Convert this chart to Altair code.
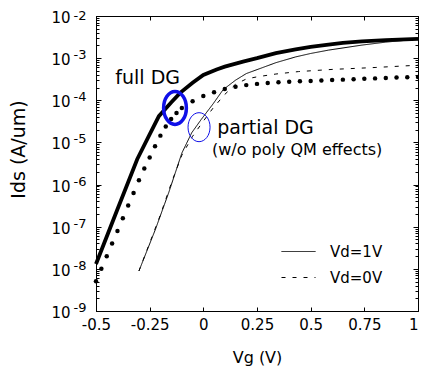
import altair as alt
import pandas as pd

# ---------------- data ----------------
# full DG, Vd = 1V (thick solid)
vg_full_vd1 = [-0.5, -0.4, -0.308, -0.25, -0.207, -0.15, -0.108, -0.05, 0.0, 0.062, 0.1,
               0.185, 0.25, 0.338, 0.43, 0.5, 0.583, 0.65, 0.739, 0.85, 1.0]
ids_full_vd1 = [1.3e-8, 2.6e-7, 4.0e-6, 1.55e-5, 4.2e-5, 8.9e-5, 1.5e-4, 2.6e-4, 4.0e-4, 5.4e-4, 6.3e-4,
                8.3e-4, 1.0e-3, 1.32e-3, 1.62e-3, 1.86e-3, 2.09e-3, 2.29e-3, 2.51e-3, 2.69e-3, 2.88e-3]

# full DG, Vd = 0V (big dots)
vg_full_vd0 = [-0.5, -0.475, -0.45, -0.425, -0.4, -0.375, -0.35, -0.325, -0.3, -0.275, -0.25,
               -0.225, -0.2, -0.175, -0.15, -0.125, -0.1, -0.05, 0.0, 0.05, 0.1, 0.15, 0.2,
               0.25, 0.3, 0.35, 0.4, 0.45, 0.5, 0.55, 0.6, 0.65, 0.7, 0.75, 0.8, 0.85, 0.9, 0.95, 1.0]
ids_full_vd0 = [5.1e-9, 1.0e-8, 2.0e-8, 4.0e-8, 7.9e-8, 1.58e-7, 3.2e-7, 6.3e-7, 1.26e-6, 2.4e-6, 4.4e-6,
                8.1e-6, 1.45e-5, 2.4e-5, 3.6e-5, 5.0e-5, 6.6e-5, 9.5e-5, 1.26e-4, 1.55e-4, 1.86e-4, 2.09e-4, 2.29e-4,
                2.45e-4, 2.57e-4, 2.69e-4, 2.75e-4, 2.82e-4, 2.88e-4, 2.95e-4, 3.02e-4, 3.09e-4, 3.16e-4, 3.24e-4,
                3.31e-4, 3.39e-4, 3.47e-4, 3.51e-4, 3.55e-4]

# partial DG, Vd = 1V (thin solid)
vg_part_vd1 = [-0.3, -0.223, -0.161, -0.1, -0.054, -0.01, 0.046, 0.092, 0.15, 0.2, 0.338,
               0.43, 0.5, 0.583, 0.739, 0.85, 1.0]
ids_part_vd1 = [8.9e-9, 8.7e-8, 6.5e-7, 5.6e-6, 1.7e-5, 3.5e-5, 8.3e-5, 1.78e-4, 3.0e-4, 4.3e-4, 7.8e-4,
                1.07e-3, 1.29e-3, 1.55e-3, 2.04e-3, 2.4e-3, 2.82e-3]

# partial DG, Vd = 0V (thin dashed)
vg_part_vd0 = [-0.3, -0.2, -0.146, -0.1, -0.05, 0.0, 0.046, 0.1, 0.15, 0.2, 0.25, 0.338, 0.444, 0.6, 0.8, 1.0]
ids_part_vd0 = [8.9e-9, 1.9e-7, 1.2e-6, 5.0e-6, 1.4e-5, 3.2e-5, 6.6e-5, 1.38e-4, 2.4e-4, 3.2e-4, 3.6e-4,
                4.2e-4, 4.8e-4, 5.4e-4, 6.0e-4, 6.8e-4]

legend_keys = ["Vd=1V", "Vd=0V"]

x_tick_values = [-0.5, -0.25, 0, 0.25, 0.5, 0.75, 1]
y_decades = [1e-9, 1e-8, 1e-7, 1e-6, 1e-5, 1e-4, 1e-3, 1e-2]
y_minor = [m * d for d in y_decades[:-1] for m in range(2, 10)]

# annotations (text, Vg, Ids)
big_texts = ["full DG", "partial DG"]
big_vg = [-0.41, 0.065]
big_ids = [3.47e-4, 2.25e-5]
small_texts = ["(w/o poly QM effects)"]
small_vg = [0.04]
small_ids = [6.7e-6]
ellipse_thick_vg = [-0.132]
ellipse_thick_ids = [6.6e-5]
ellipse_thin_vg = [-0.02]
ellipse_thin_ids = [2.3e-5]

# ---------------- tables ----------------
thick_df = pd.DataFrame({"vg": vg_full_vd1, "ids": ids_full_vd1})
rows = []
for key, xs, ys in [("Vd=1V", vg_part_vd1, ids_part_vd1),
                    ("Vd=0V", vg_part_vd0, ids_part_vd0)]:
    for x, y in zip(xs, ys):
        rows.append({"key": key, "vg": x, "ids": y})
thin_df = pd.DataFrame(rows)
dots_df = pd.DataFrame({"vg": vg_full_vd0, "ids": ids_full_vd0})
big_df = pd.DataFrame({"t": big_texts, "vg": big_vg, "ids": big_ids})
small_df = pd.DataFrame({"t": small_texts, "vg": small_vg, "ids": small_ids})
ell1_df = pd.DataFrame({"vg": ellipse_thick_vg, "ids": ellipse_thick_ids})
ell2_df = pd.DataFrame({"vg": ellipse_thin_vg, "ids": ellipse_thin_ids})

FONT = "DejaVu Sans"
x_scale = alt.Scale(domain=[-0.5, 1.0], nice=False, zero=False)
y_scale = alt.Scale(type="log", domain=[1e-9, 1e-2], nice=False)

x_main_axis = alt.Axis(orient="bottom", values=x_tick_values, labelExpr="'' + datum.value",
                       ticks=False, tickSize=0, labelPadding=6, labelFontSize=15, labelColor="black",
                       labelFont=FONT, labelFlush=False, labelOverlap=False, domainColor="black",
                       labelAlign={"condition": {"test": "datum.value == 1", "value": "right"},
                                   "value": "center"},
                       grid=False, title="Vg (V)", titleFontSize=16, titleFontWeight="normal",
                       titleColor="black", titleFont=FONT, titleY=46, titleBaseline="middle")
y_main_axis = alt.Axis(orient="left", values=y_decades, labelExpr="'10'", ticks=False, tickSize=0,
                       labelPadding=26, labelOffset=1.5, labelFontSize=15, labelColor="black", labelFont=FONT,
                       labelFlush=False, labelOverlap=False, domainColor="black", grid=False,
                       title="Ids (A/um)", titleFontSize=19, titleFontWeight="normal", titleColor="black",
                       titleFont=FONT, titleX=-78, titleY=133, titleAngle=270, titleBaseline="middle",
                       titleAlign="center")

thin_lines = alt.Chart(thin_df).mark_line(color="black", strokeWidth=1).encode(
    x=alt.X("vg:Q", scale=x_scale, axis=x_main_axis),
    y=alt.Y("ids:Q", scale=y_scale, axis=y_main_axis),
    detail="key:N",
    strokeDash=alt.StrokeDash("key:N", scale=alt.Scale(domain=legend_keys, range=[[1, 0], [4, 7]]),
                              legend=alt.Legend(title=None, orient="none",
                                                legendX=185, legendY=218, symbolType="stroke",
                                                symbolSize=1156, symbolStrokeWidth=1,
                                                symbolStrokeColor="black", labelFont=FONT,
                                                labelFontSize=15, labelColor="black", labelOffset=14,
                                                rowPadding=-13, padding=0)),
)

thick_line = alt.Chart(thick_df).mark_line(color="black", strokeWidth=3.8).encode(
    x=alt.X("vg:Q", scale=x_scale, axis=None),
    y=alt.Y("ids:Q", scale=y_scale, axis=None),
)

dots = alt.Chart(dots_df).mark_circle(color="black", size=20, opacity=1).encode(
    x=alt.X("vg:Q", scale=x_scale, axis=None),
    y=alt.Y("ids:Q", scale=y_scale, axis=None),
)


def ghost(xaxis, yaxis):
    return alt.Chart(thick_df).mark_line(strokeOpacity=0).encode(
        x=alt.X("vg:Q", scale=x_scale, axis=xaxis),
        y=alt.Y("ids:Q", scale=y_scale, axis=yaxis),
    )


def inner(orient, values, size):
    return alt.Axis(orient=orient, values=values, tickSize=size, offset=-size, labels=False,
                    domain=False, title=None, grid=False, ticks=True, tickColor="black", tickWidth=1)


exp_axis = alt.Axis(orient="left", values=y_decades,
                    labelExpr="'-' + (-round(log(datum.value) / LN10))",
                    ticks=False, tickSize=0, labelPadding=10,
                    labelOffset={"condition": {"test": "datum.value > 0.005", "value": -1},
                                 "value": -3.5},
                    labelFontSize=13,
                    labelColor="black", labelFont=FONT, labelFlush=False, labelOverlap=False,
                    domain=False, grid=False, title=None)

axis_layers = [
    ghost(inner("top", x_tick_values, 4), exp_axis),
    ghost(inner("bottom", x_tick_values, 4), inner("left", y_decades, 5)),
    ghost(None, inner("left", y_minor, 3)),
    ghost(None, inner("right", y_decades, 5)),
    ghost(None, inner("right", y_minor, 3)),
]

ellipse_thick = alt.Chart(ell1_df).mark_point(
    shape="M-0.69,0A0.69,1 0 1 0 0.69,0A0.69,1 0 1 0 -0.69,0Z",
    size=1089, filled=False, stroke="#1010e8", strokeWidth=3.5, opacity=1).encode(
    x=alt.X("vg:Q", scale=x_scale, axis=None),
    y=alt.Y("ids:Q", scale=y_scale, axis=None),
)
ellipse_thin = alt.Chart(ell2_df).mark_point(
    shape="M-0.76,0A0.76,1 0 1 0 0.76,0A0.76,1 0 1 0 -0.76,0Z",
    size=841, filled=False, stroke="#1010e8", strokeWidth=1, opacity=1).encode(
    x=alt.X("vg:Q", scale=x_scale, axis=None),
    y=alt.Y("ids:Q", scale=y_scale, axis=None),
)

big_text = alt.Chart(big_df).mark_text(align="left", baseline="middle", fontSize=19, font=FONT,
                                       color="black").encode(
    x=alt.X("vg:Q", scale=x_scale, axis=None),
    y=alt.Y("ids:Q", scale=y_scale, axis=None),
    text="t:N",
)
small_text = alt.Chart(small_df).mark_text(align="left", baseline="middle", fontSize=16, font=FONT,
                                           color="black").encode(
    x=alt.X("vg:Q", scale=x_scale, axis=None),
    y=alt.Y("ids:Q", scale=y_scale, axis=None),
    text="t:N",
)

chart = alt.layer(thin_lines, thick_line, dots, *axis_layers, ellipse_thick, ellipse_thin,
                  big_text, small_text).resolve_axis(
    x="independent", y="independent"
).properties(
    width=322, height=295,
    autosize=alt.AutoSizeParams(type="none"),
    padding={"left": 88, "top": 8, "right": 1, "bottom": 58},
).configure(font=FONT).configure_view(stroke="black", strokeWidth=1)

chart.save("out.html", embed_options={"renderer": "svg", "actions": False})
